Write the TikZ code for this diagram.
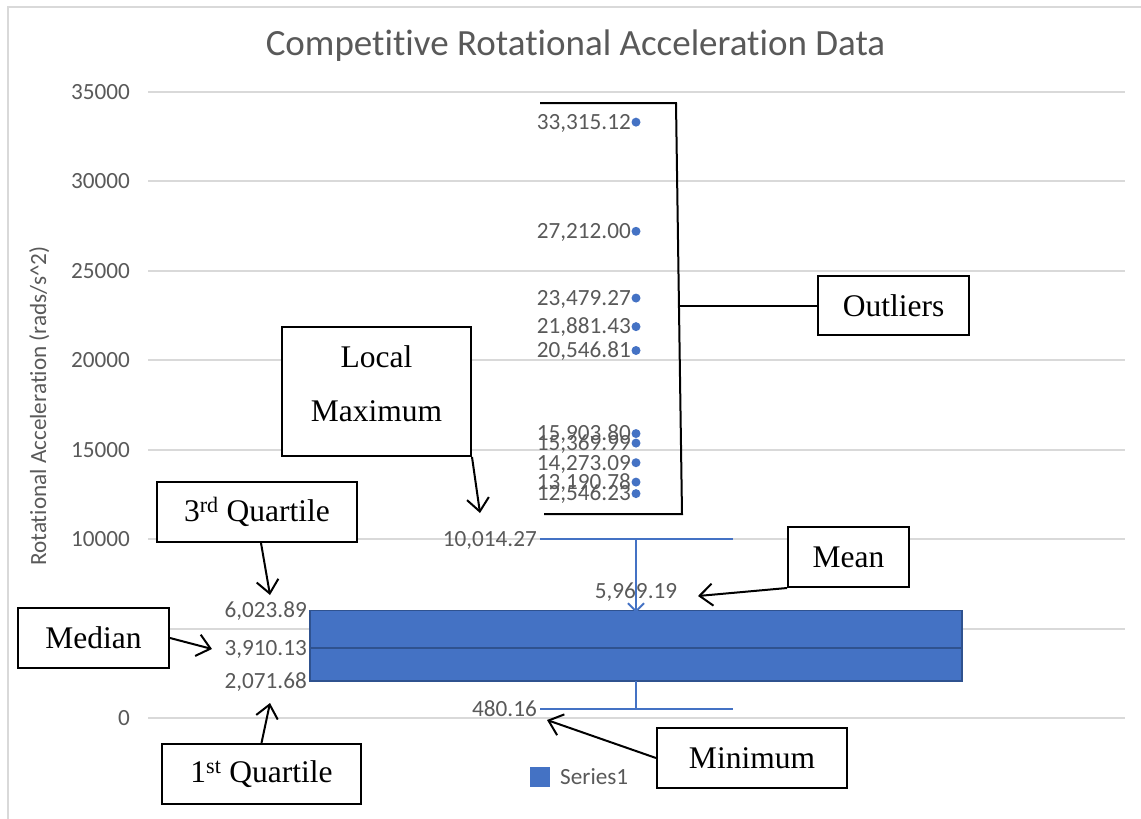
\documentclass[tikz,border=0pt]{standalone}
\usepackage{fontspec}
\setmainfont{Liberation Serif}
\newfontfamily\chartfont[Ligatures=NoCommon]{Carlito}
\usetikzlibrary{arrows.meta}
\definecolor{series}{RGB}{68,114,196}
\definecolor{seriesdark}{RGB}{47,82,143}
\definecolor{axisgray}{RGB}{89,89,89}
\definecolor{gridgray}{RGB}{217,217,217}
% value in thousands -> picture y
\newcommand{\valy}[1]{718-#1*17.8857}

\begin{document}
\begin{tikzpicture}[x=1pt, y=-1pt, >={Straight Barb[length=13pt,width=22pt]}]
        % Styles
        \tikzset{callout/.style={rectangle, draw=black, line width=2pt, fill=white, inner sep=0pt, font=\fontsize{31.5}{36}\selectfont}}
        \tikzset{datalabel/.style={font=\chartfont\fontsize{23.2}{26}\selectfont, text=axisgray, inner sep=0pt, text height=14.6pt, text depth=0pt}}
        \tikzset{whisker/.style={draw=series, line width=2pt}}
        \tikzset{pointer/.style={->, line width=2pt}}

        \useasboundingbox (0,0) rectangle (1141,819);

        % Frame and title
        \draw[gridgray, line width=1.5pt] (8,819) -- (8,7) -- (1141,7);
        \node[font=\chartfont\fontsize{37}{44}\selectfont, text=axisgray] (title) at (575.5,46) {Competitive Rotational Acceleration Data};

        % Grid and axis
        \foreach \v/\t in {0/0, 5/5000, 10/10000, 15/15000, 20/20000, 25/25000, 30/30000, 35/35000} {
            \draw[gridgray, line width=2pt] (148,{\valy{\v}}) -- (1125,{\valy{\v}});
            \node[datalabel, anchor=east] at (130,{\valy{\v}}) {\t};
        }
        \node[datalabel, rotate=90, text height=16pt, text depth=4pt] (ytitle) at (40,406) {Rotational Acceleration (rads/s\textasciicircum 2)};

        % Box and whiskers
        \draw[fill=series, draw=seriesdark, line width=1.5pt] (310,{\valy{6.02389}}) rectangle (962,{\valy{2.07168}});
        \draw[seriesdark, line width=1.5pt] (310,{\valy{3.91013}}) -- (962,{\valy{3.91013}});
        \draw[whisker] (540,{\valy{10.01427}}) -- (733,{\valy{10.01427}});
        \draw[whisker] (636,{\valy{10.01427}}) -- (636,{\valy{6.02389}});
        \draw[whisker] (636,{\valy{2.07168}}) -- (636,{\valy{0.48016}});
        \draw[whisker] (540,{\valy{0.48016}}) -- (733,{\valy{0.48016}});
        \draw[series, line width=2pt] (628,{\valy{5.96919}-8}) -- (644,{\valy{5.96919}+8});
        \draw[series, line width=2pt] (628,{\valy{5.96919}+8}) -- (644,{\valy{5.96919}-8});

        % Outliers
        \foreach \v/\t in {33.31512/{33,315.12}, 27.212/{27,212.00}, 23.47927/{23,479.27}, 21.88143/{21,881.43}, 20.54681/{20,546.81}, 15.9038/{15,903.80}, 15.36999/{15,369.99}, 14.27309/{14,273.09}, 13.19078/{13,190.78}, 12.54623/{12,546.23}} {
            \fill[series] (636,{\valy{\v}}) circle (4.5);
            \node[datalabel, anchor=east] at (631,{\valy{\v}}) {\t};
        }

        % Data labels
        \node[datalabel, anchor=east] (lblmax) at (537,{\valy{10.01427}}) {10,014.27};
        \node[datalabel, anchor=east] (lblmin) at (537,{\valy{0.48016}}) {480.16};
        \node[datalabel] (lblmean) at (636,591) {5,969.19};
        \node[datalabel, anchor=east] (lblq3) at (307,{\valy{6.02389}}) {6,023.89};
        \node[datalabel, anchor=east] (lblmed) at (307,{\valy{3.91013}}) {3,910.13};
        \node[datalabel, anchor=east] (lblq1) at (307,{\valy{2.07168}}) {2,071.68};

        % Legend
        \fill[series] (530,767) rectangle (550,787);
        \node[datalabel, anchor=west] (legend) at (560,777) {Series1};

        % Callouts
        \node[callout, minimum width=151, minimum height=59] (outliers) at (893.5,305.5) {Outliers};
        \node[callout, minimum width=189, minimum height=129, align=center, font=\fontsize{31.5}{54}\selectfont] (localmax) at (376.5,391.5) {Local\\Maximum\strut};
        \node[callout, minimum width=200, minimum height=60] (thirdq) at (257,512) {3\textsuperscript{rd} Quartile};
        \node[callout, minimum width=151, minimum height=60] (median) at (93.5,638) {Median};
        \node[callout, minimum width=199, minimum height=60] (firstq) at (261.5,774) {1\textsuperscript{st} Quartile};
        \node[callout, minimum width=121, minimum height=60] (mean) at (848.5,557) {Mean};
        \node[callout, minimum width=190, minimum height=60] (minimum) at (752,758) {Minimum};

        % Bracket round the outliers
        \coordinate (brtl) at (540,103);
        \coordinate (brtr) at (676,103);
        \coordinate (brbr) at (682,514);
        \coordinate (brbl) at (544,514);
        \coordinate (outtap) at (679,305.5);
        \draw[line width=2pt] (brtl) -- (brtr) -- (brbr) -- (brbl);
        \draw[line width=2pt] (outliers.west) -- (outtap);

        % Pointers
        \coordinate (q3tip) at (270,595);
        \coordinate (medtip) at (212,649);
        \coordinate (q1tip) at (270,703);
        \coordinate (maxtip) at (480,513);
        \coordinate (meantip) at (698,596);
        \coordinate (mintip) at (547,720);
        \draw[pointer] ([xshift=4pt]thirdq.south) -- (q3tip);
        \draw[pointer] (median.east) -- (medtip);
        \draw[pointer] (firstq.north) -- (q1tip);
        \draw[pointer] (localmax.south east) -- (maxtip);
        \draw[pointer] (mean.south west) -- (meantip);
        \draw[pointer] (minimum.west) -- (mintip);
    \end{tikzpicture}
\end{document}
